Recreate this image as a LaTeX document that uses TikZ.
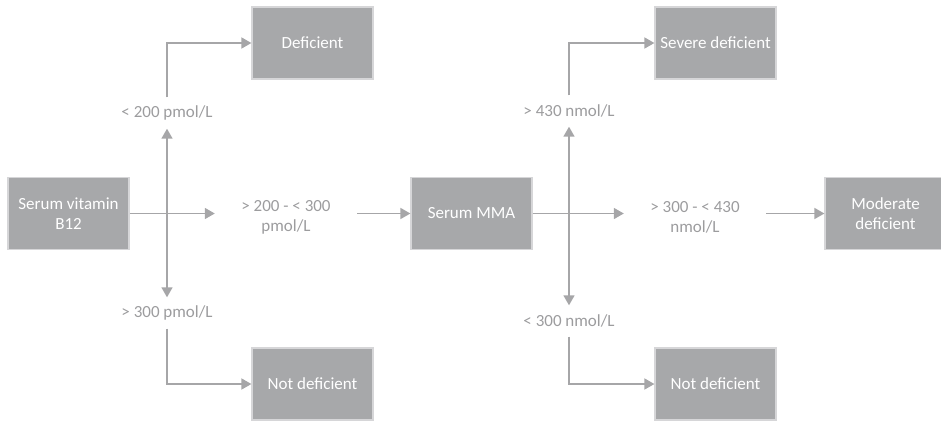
\documentclass[tikz,border=0pt]{standalone}
\usepackage{fontspec}
\setmainfont{Carlito}
\usepackage{tikz}
\usetikzlibrary{arrows.meta}
\usetikzlibrary{positioning}
\usetikzlibrary{calc}
\definecolor{boxgray}{HTML}{A7A8AA}
\definecolor{boxedge}{HTML}{D6D6D8}
\definecolor{linegray}{HTML}{A6A6A8}
\definecolor{labelgray}{HTML}{9C9C9E}
\tikzset{basic box/.style={draw=boxedge,
                           line width=1.2pt,
                           fill=boxgray,
                           text=white,
                           align=center,
                           inner sep=0pt}}
\tikzset{edge/.style={draw=linegray,
                      line width=1.6pt,
                      -{Triangle[length=10pt,width=11pt]}}}
\tikzset{level label/.style={text=labelgray,
                             align=center,
                             inner sep=0pt}}

\begin{document}
\begin{tikzpicture}
  [
    x=1pt, y=-1pt,
    font=\fontsize{17}{20}\selectfont,
    test box/.style={basic box,
                     minimum width=121pt,
                     minimum height=72pt},
    side label/.style={level label,
                       minimum height=31pt},
    mid label/.style={level label,
                      minimum width=142pt,
                      minimum height=44pt},
  ]
    \useasboundingbox (0,0) rectangle (941,421);

    % boxes
    \node [test box] (B12) at (68.5,213.5) {Serum vitamin\\B12};
    \node [test box] (Def) at (312.5,43) {Deficient};
    \node [test box] (NotDefL) at (312.5,384) {Not deficient};
    \node [test box] (MMA) at (471.5,213.5) {Serum MMA};
    \node [test box] (Severe) at (715.5,43) {Severe deficient};
    \node [test box] (NotDefR) at (715.5,384) {Not deficient};
    \node [test box] (Moderate) at (885.5,213.5) {Moderate\\deficient};

    % cut-off values
    \node [side label] (UpL) at (167,113) {< 200 pmol/L};
    \node [side label] (DownL) at (167,313) {> 300 pmol/L};
    \node [mid label] (MidL) at (286,217) {> 200 - < 300\\pmol/L};
    \node [side label] (UpR) at (569,111) {> 430 nmol/L};
    \node [side label] (DownR) at (569,321) {< 300 nmol/L};
    \node [mid label] (MidR) at (695,217) {> 300 - < 430\\nmol/L};

    \coordinate (JL) at (167,213.5);
    \coordinate (JR) at (569,213.5);

    % edges
    \draw [edge] (B12.east) -- (B12.east -| MidL.west);
    \draw [edge] (JL) -- (UpL.south);
    \draw [edge] (JL) -- (DownL.north);
    \draw [edge] (UpL.north) |- (Def.west);
    \draw [edge] (DownL.south) |- (NotDefL.west);
    \draw [edge] (MMA.west -| MidL.east) -- (MMA.west);

    \draw [edge] (MMA.east) -- (MMA.east -| MidR.west);
    \draw [edge] (JR) -- (UpR.south);
    \draw [edge] (JR) -- (DownR.north);
    \draw [edge] (UpR.north) |- (Severe.west);
    \draw [edge] (DownR.south) |- (NotDefR.west);
    \draw [edge] (Moderate.west -| MidR.east) -- (Moderate.west);

  \end{tikzpicture}
\end{document}
